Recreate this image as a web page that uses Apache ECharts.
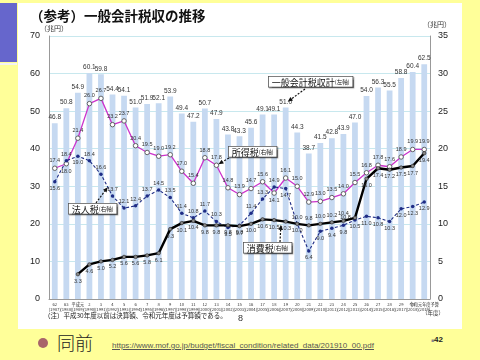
<!DOCTYPE html>
<html><head><meta charset="utf-8">
<script src="https://cdn.jsdelivr.net/npm/echarts/dist/echarts.min.js"></script>
<style>
html,body{margin:0;padding:0;width:480px;height:360px;overflow:hidden;background:#FFFF99;font-family:"Noto Sans CJK JP","Noto Sans",sans-serif;}
.abs{position:absolute;}
#chart{position:absolute;left:0;top:0;width:480px;height:360px;}
</style></head>
<body>
<div class="abs" style="left:18px;top:3px;width:444px;height:326px;background:#fff"></div>
<div class="abs" style="left:0;top:3px;width:17px;height:59px;background:#6666CC"></div>
<div class="abs" style="left:0;top:63px;width:17px;height:2px;background:#f4f4f4"></div>
<div class="abs" style="left:38px;top:338px;width:10px;height:10px;border-radius:50%;background:#A8646A"></div>
<div class="abs" style="left:57px;top:329px;font-size:18px;line-height:26px;color:#222;font-weight:300">同前</div>
<div class="abs" style="left:112px;top:340px;font-size:8px;line-height:12px;color:#555;text-decoration:underline;font-family:'Liberation Sans',Arial,sans-serif">https://www.mof.go.jp/budget/fiscal_condition/related_data/201910_00.pdf</div>
<div class="abs" style="left:431px;top:334px;font-size:8px;line-height:12px;color:#222;font-weight:bold;font-family:'Liberation Sans',Arial,sans-serif"><span style="color:#888;font-size:5px">■</span>42</div>
<div id="chart"></div>
<script>
const categories = ["62\n(1987)","63\n(1988)","平成元\n(1989)","2\n(1990)","3\n(1991)","4\n(1992)","5\n(1993)","6\n(1994)","7\n(1995)","8\n(1996)","9\n(1997)","10\n(1998)","11\n(1999)","12\n(2000)","13\n(2001)","14\n(2002)","15\n(2003)","16\n(2004)","17\n(2005)","18\n(2006)","19\n(2007)","20\n(2008)","21\n(2009)","22\n(2010)","23\n(2011)","24\n(2012)","25\n(2013)","26\n(2014)","27\n(2015)","28\n(2016)","29\n(2017)","30\n(2018)","令和元年度予算\n(2019)"];
const totalTax = [46.8,50.8,54.9,60.1,59.8,54.4,54.1,51.0,51.9,52.1,53.9,49.4,47.2,50.7,47.9,43.8,43.3,45.6,49.1,49.1,51.0,44.3,38.7,41.5,42.8,43.9,47.0,54.0,56.3,55.5,58.8,60.4,62.5];
const incomeTax = [17.4,18.0,21.4,26.0,26.7,23.2,23.7,20.4,19.5,19.0,19.2,17.0,15.4,18.8,17.8,14.8,13.9,14.7,15.6,14.1,16.1,15.0,12.9,13.0,13.5,14.0,15.5,16.8,17.8,17.6,18.9,19.9,19.9];
const corporateTax = [15.6,18.4,19.0,18.4,16.6,13.7,12.1,12.4,13.7,14.5,13.5,11.4,10.8,11.7,10.3,9.5,9.8,11.4,13.3,14.9,14.7,10.0,6.4,9.0,9.4,9.8,10.5,11.0,10.8,10.3,12.0,12.3,12.9];
const consumptionTax = [null,null,3.3,4.6,5.0,5.2,5.6,5.6,5.8,6.1,9.3,10.1,10.4,9.8,9.8,9.8,9.7,10.0,10.6,10.5,10.3,10.0,9.8,10.0,10.2,10.4,10.8,16.0,17.4,17.2,17.5,17.7,19.4];
const leftTicks = {min:0,max:70,interval:10};
const rightTicks = {min:0,max:35,interval:5};

function incomePos(i){ return (i===1||i===19)?'bottom':'top'; }
function corpPos(i){
  if(i===0||i===2||i===15||i===16||i===20) return 'bottom';
  if(i>=22) return 'bottom';
  return 'top';
}
function consPos(i){
  if(i>=22&&i<=25) return 'top';
  if(i===26) return 'left';
  return 'bottom';
}
function items(vals,posFn){
  return vals.map((v,i)=> v==null?null:{value:v,label:{position:posFn(i)}});
}
const CJK = '"Noto Sans CJK JP","Noto Sans",sans-serif';
const LAT = '"Liberation Sans",Arial,sans-serif';
const chart = echarts.init(document.getElementById('chart'),null,{renderer:'canvas'});
const lblSmall = {show:true,fontSize:5.5,color:'#333',fontFamily:LAT,distance:2,formatter:p=>p.value==null?'':Number(p.value).toFixed(1)};
chart.setOption({
  animation:false,
  title:{text:'（参考）一般会計税収の推移',left:25,top:4,textStyle:{fontSize:13.5,fontWeight:'bold',color:'#111',fontFamily:CJK}},
  grid:{left:49,right:50,top:36,bottom:61},
  xAxis:{type:'category',data:categories,
    axisLine:{lineStyle:{color:'#999'}},axisTick:{show:false},
    axisLabel:{interval:0,fontSize:4.2,lineHeight:5,color:'#333',margin:3,fontFamily:CJK,hideOverlap:false}},
  yAxis:[
    {type:'value',min:leftTicks.min,max:leftTicks.max,interval:leftTicks.interval,
     axisLine:{show:true,lineStyle:{color:'#999'}},axisTick:{show:false},
     axisLabel:{fontSize:9,color:'#222',margin:9,fontFamily:LAT},
     splitLine:{lineStyle:{color:'#C8E8EE',width:1}}},
    {type:'value',min:rightTicks.min,max:rightTicks.max,interval:rightTicks.interval,position:'right',
     axisLine:{show:true,lineStyle:{color:'#999'}},axisTick:{show:false},
     axisLabel:{fontSize:9,color:'#222',margin:8,fontFamily:LAT},
     splitLine:{show:false}}
  ],
  series:[
    {name:'一般会計税収計',type:'bar',yAxisIndex:0,data:totalTax,barWidth:'50%',
     itemStyle:{color:'#C6D9F1'},
     label:{show:true,position:'top',fontSize:6.5,color:'#333',distance:2,fontFamily:LAT,formatter:p=>Number(p.value).toFixed(1)}},
    {name:'所得税',type:'line',yAxisIndex:1,data:items(incomeTax,incomePos),
     lineStyle:{color:'#CC33CC',width:1.3},symbol:'circle',symbolSize:4.5,
     itemStyle:{color:'#fff',borderColor:'#555',borderWidth:0.9},label:lblSmall,z:4},
    {name:'法人税',type:'line',yAxisIndex:1,data:items(corporateTax,corpPos),
     lineStyle:{color:'#1F2D86',width:1.1,type:[3,2]},symbol:'circle',symbolSize:3.5,
     itemStyle:{color:'#1F2D86'},label:lblSmall,z:4},
    {name:'消費税',type:'line',yAxisIndex:1,data:items(consumptionTax,consPos),connectNulls:false,
     lineStyle:{color:'#000',width:2.4},symbol:'circle',symbolSize:3.5,
     itemStyle:{color:'#888',borderColor:'#222',borderWidth:0.6},label:lblSmall,z:5}
  ]
});

function px(i,v,axis){
  return chart.convertToPixel(axis===0?{xAxisIndex:0,yAxisIndex:0}:{xAxisIndex:0,yAxisIndex:1},[i,v]);
}
function callout(main,sub,bx,by,sx,sy,end){
  const out=[];
  out.push({type:'text',left:bx,top:by,z:50,style:{
    text:'{a|'+main+'}{b|'+sub+'}',
    rich:{a:{fontSize:9,fontFamily:CJK,fill:'#111'},b:{fontSize:5.5,fontFamily:CJK,fill:'#111'}},
    backgroundColor:'#fff',borderColor:'#555',borderWidth:0.8,padding:[1,3,0,3],
    shadowColor:'rgba(0,0,0,0.35)',shadowOffsetX:1,shadowOffsetY:1,shadowBlur:1}});
  const ex=end[0],ey=end[1];
  const dx=ex-sx,dy=ey-sy,len=Math.hypot(dx,dy),ux=dx/len,uy=dy/len;
  const ax=ex-ux*5,ay=ey-uy*5;
  out.push({type:'line',z:49,shape:{x1:sx,y1:sy,x2:ax,y2:ay},style:{stroke:'#111',lineWidth:1.2,lineDash:[2,1.5]}});
  out.push({type:'polygon',z:49,shape:{points:[[ex,ey],[ax-uy*2.2,ay+ux*2.2],[ax+uy*2.2,ay-ux*2.2]]},style:{fill:'#111'}});
  return out;
}
const gT = px(20,totalTax[20]+1,0);
const gI = px(14,incomeTax[14],1);
const c1 = px(4,corporateTax[4],1), c2 = px(5,corporateTax[5],1);
const gC = [(c1[0]+c2[0])/2+1,(c1[1]+c2[1])/2+2];
const s1 = px(19,consumptionTax[19],1), s2 = px(20,consumptionTax[20],1);
const gS = [(s1[0]+s2[0])/2+1,(s1[1]+s2[1])/2+4];
let g=[];
g=g.concat(callout('一般会計税収計','(左軸)',268,76,305,89,[gT[0]+2,gT[1]-2]));
g=g.concat(callout('所得税','(右軸)',228,146,229,158,[gI[0]+2,gI[1]-1]));
g=g.concat(callout('法人税','(右軸)',68,203,96,203,gC));
g=g.concat(callout('消費税','(右軸)',243,242,280,242,gS));
g.push({type:'text',left:40,top:25,style:{text:'（兆円）',fontSize:7,fill:'#333',fontFamily:CJK}});
g.push({type:'text',left:423,top:21,style:{text:'（兆円）',fontSize:7,fill:'#333',fontFamily:CJK}});
g.push({type:'text',left:422,top:310,style:{text:'（年度）',fontSize:5.5,fill:'#333',fontFamily:CJK}});
g.push({type:'text',left:44,top:312,style:{text:'（注）平成30年度以前は決算額、令和元年度は予算額である。',fontSize:6.5,fill:'#222',fontFamily:CJK}});
g.push({type:'text',left:238,top:314,style:{text:'8',fontSize:9,fill:'#333',fontFamily:LAT}});
chart.setOption({graphic:g});
</script>
</body></html>
